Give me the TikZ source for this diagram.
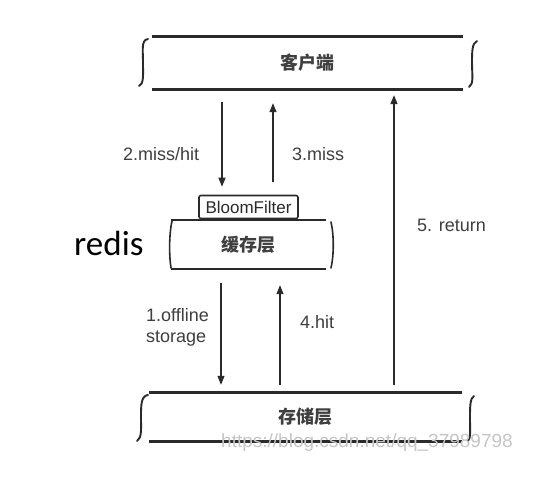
\documentclass[tikz,border=0pt]{standalone}
\usepackage{fontspec}
\setmainfont{Liberation Sans}
\newfontfamily\cjk{Noto Sans CJK SC}
\newfontfamily\calib{Carlito}
\usetikzlibrary{arrows.meta}
\definecolor{ink}{HTML}{2A2A2A}
\tikzset{
  layer/.style={inner sep=0pt, font=\cjk\bfseries\fontsize{18}{20}\selectfont, text=ink!90},
  bar/.style={draw=ink, line width=2.8pt},
  brace/.style={draw=ink, line width=1.9pt, line cap=round},
  arr/.style={draw=ink, line width=1.1pt, -{Triangle[length=9pt,width=7pt]}},
  lab/.style={inner sep=0pt, font=\fontsize{18}{21}\selectfont, text=ink!90},
}
\begin{document}
\begin{tikzpicture}[x=1pt,y=-1pt]
\useasboundingbox[fill=white] (0,0) rectangle (543,478);

% client layer
\node[layer, minimum width=311pt, minimum height=52pt] (client) at (307.5,63) {客户端};
\draw[bar] (client.north west) -- (client.north east);
\draw[bar] (client.south west) -- (client.south east);
\draw[brace] (148,39) .. controls (141,40) and (143,50) .. (143,62) .. controls (143,75) and (144,84) .. (139,86);
\draw[brace] (477,41) .. controls (472,43) and (472,52) .. (472,63) .. controls (472,75) and (474,84) .. (469,87);

% cache layer
\node[layer, minimum width=155pt, minimum height=49pt] (cache) at (248.5,244.5) {缓存层};
\draw[bar, line width=2.4pt] (cache.north west) -- (cache.north east);
\draw[bar, line width=2.4pt] (cache.south west) -- (cache.south east);
\draw[brace, line width=1.6pt] (172,221) .. controls (169,235) and (169,255) .. (171,268);
\draw[brace, line width=1.6pt] (331,222) .. controls (334,235) and (334,255) .. (331,268);

% bloom filter
\node[draw=ink, line width=1.6pt, rounded corners=2pt, minimum width=99pt, minimum height=23pt,
      inner sep=0pt, font=\fontsize{17}{19}\selectfont, text=ink] (bloom) at (248.5,207) {BloomFilter};

% redis
\node[inner sep=0pt, font=\calib\fontsize{35}{38}\selectfont, text=black, anchor=west] (redis) at (74,243) {redis};

% storage layer
\node[layer, minimum width=313pt, minimum height=48pt] (storage) at (305.5,417) {存储层};
\draw[bar] (storage.north west) -- (storage.north east);
\draw[bar] (storage.south west) -- (storage.south east);
\draw[brace] (148,395) .. controls (141,396) and (141,405) .. (141,417) .. controls (141,429) and (142,438) .. (137,441);
\draw[brace] (474,396) .. controls (470,398) and (470,407) .. (470,418) .. controls (470,430) and (471,438) .. (468,441);

% watermark
\node[inner sep=0pt, anchor=west, font=\fontsize{19}{21}\selectfont, text=gray!45] (wm) at (221,443) {https://blog.csdn.net/qq\_37989798};

% arrows
\draw[arr, shorten <=13pt, shorten >=8pt] (client.south -| 222,0) -- (bloom.north -| 222,0);
\draw[arr, shorten <=13pt, shorten >=14pt] (bloom.north -| 273,0) -- (client.south -| 273,0);
\draw[arr, shorten <=14pt, shorten >=8pt] (cache.south -| 221,0) -- (storage.north -| 221,0);
\draw[arr, shorten <=8pt, shorten >=16pt] (storage.north -| 280,0) -- (cache.south -| 280,0);
\draw[arr, shorten <=8pt, shorten >=6pt] (storage.north -| 394,0) -- (client.south -| 394,0);

% labels
\node[lab, anchor=west] (l2) at (123,154) {2.miss/hit};
\node[lab, anchor=west] (l3) at (292,154) {3.miss};
\node[lab, anchor=west, align=left] (l1) at (146,327) {1.offline\\storage};
\node[lab, anchor=west] (l4) at (300,322) {4.hit};
\node[lab, anchor=west] (l5) at (417,225) {5. return};
\end{tikzpicture}
\end{document}
